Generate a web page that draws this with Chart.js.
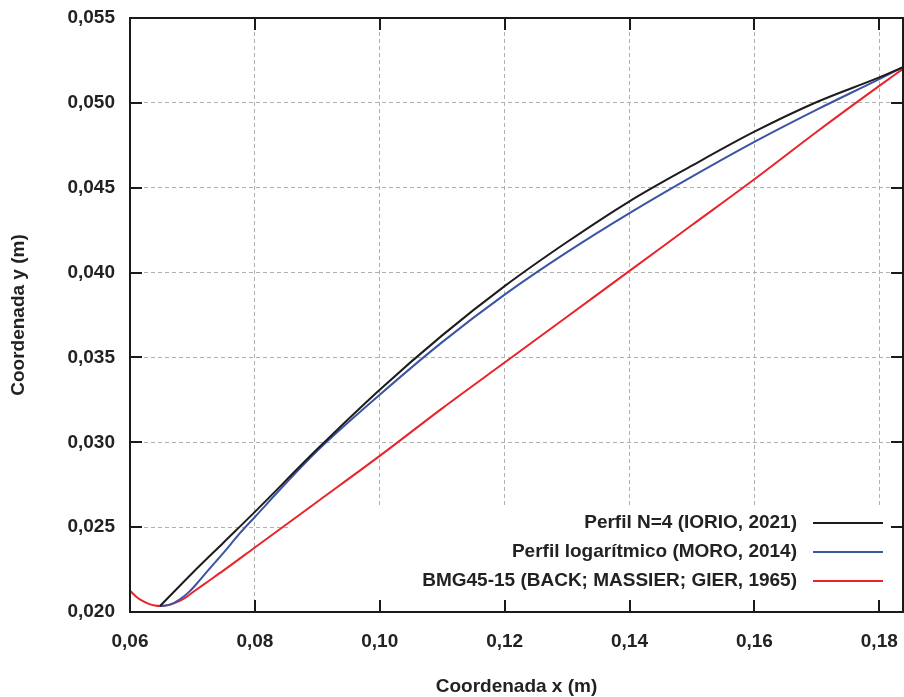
<!DOCTYPE html>
<html>
<head>
<meta charset="utf-8">
<script src="https://cdn.jsdelivr.net/npm/chart.js@4"></script>
<style>
  html, body { margin: 0; padding: 0; background: #fff; }
  #wrap { width: 904px; height: 697px; }
</style>
</head>
<body>
<div id="wrap"><canvas id="chart" width="904" height="697"></canvas></div>
<script>
// eixos
const X_TICKS = [0.06, 0.08, 0.10, 0.12, 0.14, 0.16, 0.18];
const Y_TICKS = [0.020, 0.025, 0.030, 0.035, 0.040, 0.045, 0.050, 0.055];
const X_MIN = 0.06, X_MAX = 0.1838;
const Y_MIN = 0.020, Y_MAX = 0.055;

const LABELS = [
  'Perfil N=4 (IORIO, 2021)',
  'Perfil logarítmico (MORO, 2014)',
  'BMG45-15 (BACK; MASSIER; GIER, 1965)',
];

// Perfil N=4
const N4_X = [0.0648, 0.070, 0.075, 0.080, 0.090, 0.100, 0.110, 0.120, 0.130, 0.140, 0.150, 0.160, 0.170, 0.180, 0.1838];
const N4_Y = [0.02035, 0.0223, 0.0241, 0.0259, 0.0296, 0.0331, 0.0363, 0.0392, 0.0418, 0.0442, 0.0463, 0.0483, 0.05005, 0.0515, 0.0521];

// Perfil logarítmico
const LOG_X = [0.0648, 0.0665, 0.068, 0.0695, 0.071, 0.0725, 0.075, 0.0775, 0.080, 0.085, 0.090, 0.100, 0.110, 0.120, 0.130, 0.140, 0.150, 0.160, 0.170, 0.180, 0.1838];
const LOG_Y = [0.02035, 0.02045, 0.02075, 0.0212, 0.0218, 0.02245, 0.0235, 0.0246, 0.0256, 0.0276, 0.0295, 0.0328, 0.0359, 0.0387, 0.0412, 0.0435, 0.04565, 0.0477, 0.0496, 0.0514, 0.0521];

// BMG45-15
const BMG_X = [0.060, 0.061, 0.062, 0.063, 0.064, 0.0648, 0.066, 0.0675, 0.069, 0.0705, 0.0725, 0.075, 0.080, 0.090, 0.100, 0.110, 0.120, 0.130, 0.140, 0.150, 0.160, 0.170, 0.180, 0.1838];
const BMG_Y = [0.02125, 0.0209, 0.02065, 0.02048, 0.02038, 0.02035, 0.02039, 0.02058, 0.02088, 0.02128, 0.0218, 0.02245, 0.0238, 0.0265, 0.0292, 0.0320, 0.0347, 0.0374, 0.0401, 0.0428, 0.0455, 0.0483, 0.0510, 0.0520];

const COLORS = ['#1c1c1c', '#3b55a5', '#e8232a'];
const FONT = { family: '"Liberation Sans", Arial, Helvetica, sans-serif', size: 19, weight: 'bold', lineHeight: 1 };
const TEXT = '#222';

const pts = (xs, ys) => xs.map((x, i) => ({ x, y: ys[i] }));
const series = [pts(N4_X, N4_Y), pts(LOG_X, LOG_Y), pts(BMG_X, BMG_Y)];

// moldura, ticks para dentro e legenda
const framePlugin = {
  id: 'frame',
  beforeDatasetsDraw(chart) {
    const { ctx, chartArea: a } = chart;
    ctx.save();
    ctx.font = `bold ${FONT.size}px ${FONT.family}`;
    const maxW = Math.max(...LABELS.map(t => ctx.measureText(t).width));
    const boxLeft = a.right - 106 - maxW - 133;
    ctx.fillStyle = '#fff';
    ctx.fillRect(boxLeft, a.bottom - 107, a.right - boxLeft - 2, 95);
    ctx.restore();
  },
  afterDatasetsDraw(chart) {
    const { ctx, chartArea: a, scales: { x, y } } = chart;
    ctx.save();
    ctx.strokeStyle = '#1a1a1a';
    ctx.lineWidth = 2;
    ctx.beginPath();
    X_TICKS.forEach(v => {
      const px = Math.round(x.getPixelForValue(v));
      ctx.moveTo(px, a.bottom); ctx.lineTo(px, a.bottom - 12);
      ctx.moveTo(px, a.top);    ctx.lineTo(px, a.top + 12);
    });
    Y_TICKS.forEach(v => {
      const py = Math.round(y.getPixelForValue(v));
      ctx.moveTo(a.left, py);  ctx.lineTo(a.left + 12, py);
      ctx.moveTo(a.right, py); ctx.lineTo(a.right - 12, py);
    });
    ctx.stroke();
    ctx.strokeRect(a.left, a.top, a.right - a.left, a.bottom - a.top);

    // legenda
    ctx.font = `bold ${FONT.size}px ${FONT.family}`;
    ctx.textAlign = 'right';
    ctx.textBaseline = 'middle';
    const textRight = a.right - 106;
    LABELS.forEach((t, i) => {
      const ly = a.bottom - 89 + i * 29;
      ctx.fillStyle = TEXT;
      ctx.fillText(t, textRight, ly);
      ctx.strokeStyle = COLORS[i];
      ctx.lineWidth = 2;
      ctx.beginPath();
      ctx.moveTo(a.right - 90, ly);
      ctx.lineTo(a.right - 20, ly);
      ctx.stroke();
    });
    ctx.restore();
  },
};

const GRID = { color: '#b0b0b0', lineWidth: 1, drawTicks: false };
const BORDER = { display: false, dash: [4, 3] };

new Chart(document.getElementById('chart').getContext('2d'), {
  type: 'line',
  data: {
    datasets: series.map((d, i) => ({
      label: LABELS[i],
      data: d,
      borderColor: COLORS[i],
      borderWidth: 2,
      pointRadius: 0,
      cubicInterpolationMode: 'monotone',
      fill: false,
    })),
  },
  options: {
    responsive: false,
    animation: false,
    layout: { padding: { top: 18, right: 1, left: 0, bottom: 0 } },
    plugins: { legend: { display: false }, tooltip: { enabled: false } },
    scales: {
      x: {
        type: 'linear', min: X_MIN, max: X_MAX,
        afterBuildTicks: s => { s.ticks = X_TICKS.map(value => ({ value })); },
        afterFit: s => { s.height = 85; s.paddingLeft = 0; s.paddingRight = 0; },
        grid: GRID, border: BORDER,
        ticks: { color: TEXT, font: FONT, padding: 20, maxRotation: 0,
          callback: v => v.toFixed(2).replace('.', ',') },
        title: { display: true, text: 'Coordenada x (m)', color: TEXT, font: FONT,
          padding: { top: 0, bottom: 1 } },
      },
      y: {
        type: 'linear', min: Y_MIN, max: Y_MAX,
        afterBuildTicks: s => { s.ticks = Y_TICKS.map(value => ({ value })); },
        afterFit: s => { s.width = 130; s.paddingTop = 0; s.paddingBottom = 0; },
        grid: GRID, border: BORDER,
        ticks: { color: TEXT, font: FONT, padding: 15,
          callback: v => v.toFixed(3).replace('.', ',') },
        title: { display: true, text: 'Coordenada y (m)', color: TEXT, font: FONT,
          padding: { top: 9, bottom: 0 } },
      },
    },
  },
  plugins: [framePlugin],
});
</script>
</body>
</html>
